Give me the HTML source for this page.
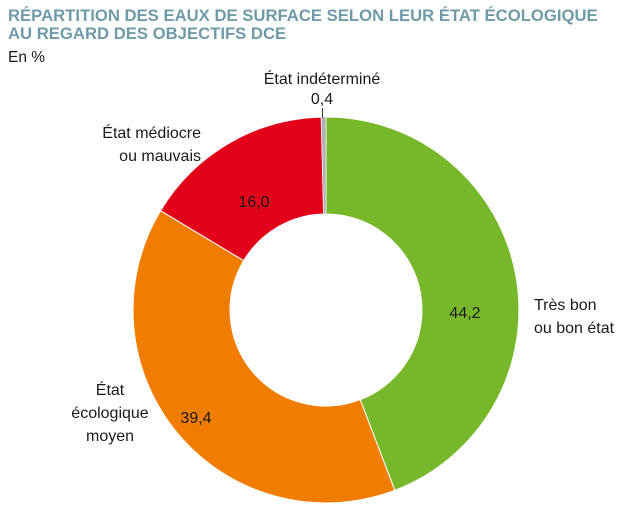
<!DOCTYPE html>
<html><head><meta charset="utf-8"><style>
body{margin:0;background:#fff;width:641px;height:521px;overflow:hidden;font-family:"Liberation Sans",sans-serif}
</style></head><body>
<svg width="641" height="521" xmlns="http://www.w3.org/2000/svg" font-family="Liberation Sans, sans-serif">
<text x="8" y="21" font-size="16.7" font-weight="bold" fill="#6f9aa8">RÉPARTITION DES EAUX DE SURFACE SELON LEUR ÉTAT ÉCOLOGIQUE</text>
<text x="8" y="39" font-size="16.7" font-weight="bold" fill="#6f9aa8">AU REGARD DES OBJECTIFS DCE</text>
<text x="8" y="62" font-size="15.5" fill="#1a1a1a">En %</text>
<g stroke="#fff" stroke-width="1">
<path d="M326,117 A193,193 0 0 1 394.8,490.3 L360.2,399.7 A96,96 0 0 0 326,214 Z" fill="#77b82a"/>
<path d="M394.8,490.3 A193,193 0 0 1 160.5,210.7 L243.7,260.6 A96,96 0 0 0 360.2,399.7 Z" fill="#f07d00"/>
<path d="M160.5,210.7 A193,193 0 0 1 321.2,117.1 L323.6,214 A96,96 0 0 0 243.7,260.6 Z" fill="#e2001a"/>
<path d="M321.2,117.1 A193,193 0 0 1 326,117 L326,214 A96,96 0 0 0 323.6,214 Z" fill="#b2b2b2" stroke-width="0.5"/>
</g>
<line x1="322.5" y1="108" x2="322.5" y2="118" stroke="#333" stroke-width="1"/>
<g font-size="16" fill="#1a1a1a">
<text x="465" y="318" text-anchor="middle">44,2</text>
<text x="196" y="423" text-anchor="middle">39,4</text>
<text x="254" y="207" text-anchor="middle">16,0</text>
<text x="322" y="84" text-anchor="middle">État indéterminé</text>
<text x="322" y="104" text-anchor="middle">0,4</text>
<text x="534" y="310">Très bon</text>
<text x="534" y="333">ou bon état</text>
<text x="110" y="395" text-anchor="middle">État</text>
<text x="110" y="418" text-anchor="middle">écologique</text>
<text x="110" y="441" text-anchor="middle">moyen</text>
<text x="201" y="138" text-anchor="end">État médiocre</text>
<text x="201" y="161" text-anchor="end">ou mauvais</text>
</g>
</svg>
</body></html>
